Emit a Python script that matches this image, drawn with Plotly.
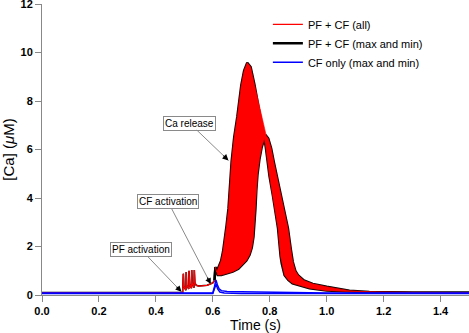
import numpy as np
import plotly.graph_objects as go

# ---------------- data ----------------
# common part of every PF + CF trace (baseline, PF burst, pre-CF)
shared_t = [0.0, 0.494, 0.4965, 0.4985, 0.5055, 0.5065, 0.5085, 0.5155, 0.5165, 0.5185,
            0.525, 0.526, 0.528, 0.534, 0.535, 0.537, 0.542, 0.55, 0.58, 0.60, 0.606]
shared_v = [0.10, 0.10, 0.88, 0.35, 0.20, 0.95, 0.40, 0.25, 1.00, 0.45,
            0.28, 1.03, 0.48, 0.30, 1.03, 0.50, 0.40, 0.37, 0.40, 0.50, 0.60]

# PF + CF, max trace (after CF activation)
pfcf_max_t = [0.606, 0.609, 0.613, 0.617, 0.623, 0.629, 0.636, 0.641, 0.648, 0.655, 0.660,
              0.666, 0.675, 0.686, 0.700, 0.710, 0.721, 0.733, 0.746, 0.760, 0.774,
              0.781, 0.786, 0.799, 0.811, 0.829, 0.838, 0.842, 0.852, 0.865, 0.880,
              0.940, 1.000, 1.100, 1.300, 1.500]
pfcf_max_v = [0.60, 1.15, 0.95, 1.05, 1.25, 1.40, 1.80, 2.20, 2.85, 3.57, 4.50,
              5.50, 6.50, 7.35, 8.65, 9.25, 9.58, 9.40, 8.70, 7.85, 6.95,
              6.45, 6.10, 4.90, 4.10, 2.75, 1.60, 1.30, 0.82, 0.62, 0.48,
              0.28, 0.18, 0.13, 0.10, 0.10]

# PF + CF, min trace (after CF activation)
pfcf_min_t = [0.606, 0.609, 0.613, 0.617, 0.630, 0.650, 0.670, 0.690, 0.705, 0.718, 0.729,
              0.737, 0.743, 0.747, 0.750, 0.753, 0.757, 0.764, 0.772, 0.781, 0.788,
              0.795, 0.805, 0.815, 0.829, 0.846, 0.864, 0.874, 0.881, 0.890, 0.899,
              0.920, 0.951, 1.000, 1.034, 1.080, 1.150, 1.300, 1.500]
pfcf_min_v = [0.60, 1.15, 0.95, 0.82, 0.82, 0.88, 0.96, 1.08, 1.24, 1.42, 1.65,
              1.95, 2.40, 2.95, 3.57, 4.30, 4.95, 5.60, 6.10, 6.45, 6.56,
              6.45, 6.05, 5.45, 4.70, 3.85, 2.75, 1.90, 1.37, 1.00, 0.82,
              0.60, 0.46, 0.34, 0.27, 0.18, 0.13, 0.10, 0.10]

# upper edge of the family of all PF + CF traces between the two peaks
all_bridge_t = [0.760, 0.774]
all_bridge_v = [8.00, 7.28]

# CF only, max and min
cf_max_t = [0.0, 0.600, 0.606, 0.611, 0.616, 0.622, 0.630, 0.650, 0.700, 0.780, 0.850, 1.000, 1.500]
cf_max_v = [0.08, 0.08, 0.35, 0.62, 0.42, 0.26, 0.18, 0.14, 0.13, 0.12, 0.10, 0.08, 0.08]
cf_min_t = [0.0, 0.600, 0.607, 0.612, 0.617, 0.625, 0.640, 0.660, 0.700, 1.500]
cf_min_v = [0.06, 0.06, 0.30, 0.45, 0.25, 0.12, 0.08, 0.07, 0.06, 0.06]

x_ticks = [0.0, 0.2, 0.4, 0.6, 0.8, 1.0, 1.2, 1.4]
y_ticks = [0, 2, 4, 6, 8, 10, 12]

series_names = ["PF + CF (all)", "PF + CF (max and min)", "CF only (max and min)"]
annot_text = ["Ca release", "CF activation", "PF activation"]
annot_tip_t = [0.655, 0.593, 0.490]
annot_tip_v = [5.55, 0.45, 0.13]
annot_box_t = [0.518, 0.443, 0.349]
annot_box_v = [7.09, 3.84, 1.86]

# ---------------- build ----------------
mt, mv = np.array(pfcf_max_t), np.array(pfcf_max_v)
nt, nv = np.array(pfcf_min_t), np.array(pfcf_min_v)

# outline of the red region covered by all PF + CF traces
r1 = (mt <= 0.746) & (mt > 0.607)
r2 = nt >= 0.788
r3 = mt >= 0.781
r4 = (nt < 0.781) & (nt > 0.607)
poly_t = (list(mt[r1]) + all_bridge_t + list(nt[r2]) +
          list(mt[r3][::-1]) + list(nt[r4][::-1]))
poly_v = (list(mv[r1]) + all_bridge_v + list(nv[r2]) +
          list(mv[r3][::-1]) + list(nv[r4][::-1]))

black_t = pfcf_max_t + [None] + pfcf_min_t
black_v = pfcf_max_v + [None] + pfcf_min_v
blue_t = cf_max_t + [None] + cf_min_t
blue_v = cf_max_v + [None] + cf_min_v

fig = go.Figure()
fig.add_trace(go.Scatter(x=shared_t, y=shared_v, mode="lines", name=series_names[1],
                         line=dict(color="#000000", width=1.6), legendgroup="mm",
                         showlegend=False, hoverinfo="skip"))
fig.add_trace(go.Scatter(x=black_t, y=black_v, mode="lines", name=series_names[1],
                         line=dict(color="#000000", width=2.4), legendgroup="mm",
                         legendrank=2))
fig.add_trace(go.Scatter(x=poly_t, y=poly_v, mode="lines", fill="toself",
                         fillcolor="#ff0000", line=dict(color="#ff0000", width=0.6),
                         showlegend=False, hoverinfo="skip"))
fig.add_trace(go.Scatter(x=shared_t, y=shared_v, mode="lines", name=series_names[0],
                         line=dict(color="#ff0000", width=1.3), legendrank=1))
fig.add_trace(go.Scatter(x=blue_t, y=blue_v, mode="lines", name=series_names[2],
                         line=dict(color="#0000ff", width=1.5), legendrank=3))

annotations = []
for txt, tt, tv, bt, bv in zip(annot_text, annot_tip_t, annot_tip_v, annot_box_t, annot_box_v):
    annotations.append(dict(x=tt, y=tv, ax=bt, ay=bv, axref="x", ayref="y",
                            text=txt, showarrow=True, arrowhead=0, arrowwidth=1,
                            arrowcolor="#8a8a8a", bgcolor="#ffffff",
                            bordercolor="#8a8a8a", borderwidth=1, borderpad=1,
                            font=dict(family="Liberation Sans", size=10, color="#000")))
# black arrowheads on the pointer lines
for tt, tv, bt, bv in zip(annot_tip_t, annot_tip_v, annot_box_t, annot_box_v):
    dx = (bt - tt) * 284.7
    dy = -(bv - tv) * 24.25
    n = (dx * dx + dy * dy) ** 0.5
    annotations.append(dict(x=tt, y=tv, ax=dx / n * 9, ay=dy / n * 9, text="",
                            showarrow=True, arrowhead=2, arrowsize=1, arrowwidth=1.2,
                            arrowcolor="#000000"))

tickfont = dict(family="Liberation Sans", size=11, color="#000", weight="bold")
fig.update_layout(
    width=469, height=333, autosize=False,
    margin=dict(l=42, r=0, t=4, b=38, autoexpand=False),
    paper_bgcolor="#ffffff", plot_bgcolor="#ffffff",
    showlegend=True,
    legend=dict(x=0.529, y=0.98, xanchor="left", yanchor="top",
                bgcolor="rgba(0,0,0,0)", itemwidth=30, tracegroupgap=0,
                font=dict(family="Liberation Sans", size=11, color="#000")),
    annotations=annotations,
    xaxis=dict(range=[0, 1.5], tickvals=x_ticks, tickformat=".1f",
               ticks="outside", ticklen=6, tickcolor="#888", showline=True,
               linecolor="#888", linewidth=1, showgrid=False, zeroline=False,
               tickfont=tickfont, automargin=False, ticklabeloverflow="allow",
               title=dict(text="Time (s)", standoff=0,
                          font=dict(family="Liberation Sans", size=14, color="#000"))),
    yaxis=dict(range=[0, 12], tickvals=y_ticks, ticks="outside", ticklen=6,
               tickcolor="#888", showline=True, linecolor="#888", linewidth=1,
               showgrid=False, zeroline=False, tickfont=tickfont,
               automargin=False, ticklabeloverflow="allow",
               title=dict(text="[Ca] (<i>μ</i>M)", standoff=6,
                          font=dict(family="Liberation Sans", size=15, color="#000"))),
)

fig.write_html("out.html", config={"displayModeBar": False},
               post_script="document.body.style.margin='0';")
